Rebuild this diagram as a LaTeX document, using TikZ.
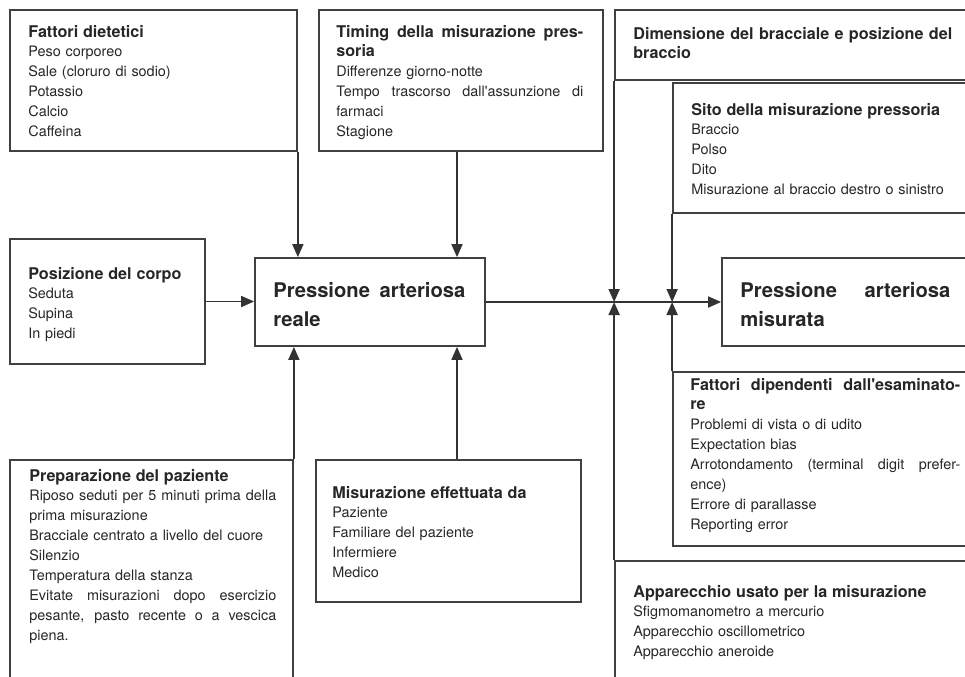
\documentclass[tikz,border=0pt]{standalone}
\usepackage{fontspec}
\setmainfont{TeX Gyre Heros}
\usetikzlibrary{arrows.meta,fit,positioning}

\newcommand{\titfont}{\fontsize{9.2}{11.34}\selectfont\bfseries}
\newcommand{\fillline}[1]{\makebox[\hsize][s]{\spaceskip=0pt\xspaceskip=0pt #1}}

\begin{document}
\begin{tikzpicture}[x=0.02cm,y=-0.02cm]
            \tikzstyle{frame}=[draw=black!75, line width=1pt, inner sep=0pt]
            \tikzstyle{txt}=[anchor=base west, inner sep=0pt, align=left, text=black!85, font=\fontsize{8.2}{11.34}\selectfont]
            \tikzstyle{big}=[txt, font=\fontsize{11.5}{16.6}\selectfont\bfseries]
            \tikzstyle{arr}=[draw=black!80, line width=1pt, -{Triangle[length=0.26cm,width=0.22cm]}]

            \clip (0,0) rectangle (965,677);

            % Frames (the right and bottom ones run off the page)
            \node[frame, fit={(10,10) (297,151)}] (diet) {};
            \node[frame, fit={(319,10) (603,151)}] (timing) {};
            \node[frame, fit={(615,10) (1000,80)}] (dimens) {};
            \node[frame, fit={(673,83) (1000,213)}] (sito) {};
            \node[frame, fit={(10,239) (205,364)}] (posiz) {};
            \node[frame, fit={(255,258) (485,346)}] (reale) {};
            \node[frame, fit={(722,258) (1000,346)}] (misur) {};
            \node[frame, fit={(673,372) (1000,546)}] (esam) {};
            \node[frame, fit={(10,460) (293,720)}] (prep) {};
            \node[frame, fit={(316,460) (581,602)}] (effett) {};
            \node[frame, fit={(615,561) (1000,720)}] (appar) {};

            % Texts of the frames
            \node[txt, text width=5cm] (diet-t) at (28,37)
                {{\titfont Fattori dietetici}\\ Peso corporeo\\ Sale (cloruro di sodio)\\ Potassio\\ Calcio\\ Caffeina};
            \node[txt, text width=4.94cm] (timing-t) at (336,37)
                {\fillline{\titfont Timing della misurazione pres-}\\ {\titfont soria}\\ Differenze giorno-notte\\
                 \fillline{Tempo trascorso dall\textquotesingle assunzione di}\\ farmaci\\ Stagione};
            \node[txt, text width=6.38cm] (dimens-t) at (633,39)
                {\fillline{\titfont Dimensione del bracciale e posizione del}\\ {\titfont braccio}};
            \node[txt, text width=5.4cm] (sito-t) at (691,115)
                {{\titfont Sito della misurazione pressoria}\\ Braccio\\ Polso\\ Dito\\ Misurazione al braccio destro o sinistro};
            \node[txt, text width=3.4cm] (posiz-t) at (28,279)
                {{\titfont Posizione del corpo}\\ Seduta\\ Supina\\ In piedi};
            \node[big, text width=3.84cm] (reale-t) at (273,297)
                {\fillline{Pressione arteriosa}\\ reale};
            \node[big, text width=4.2cm] (misur-t) at (740,297)
                {\fillline{Pressione arteriosa}\\ misurata};
            \node[txt, text width=5.4cm] (esam-t) at (690,390)
                {\fillline{\titfont Fattori dipendenti dall\textquotesingle esaminato-}\\ {\titfont re}\\ Problemi di vista o di udito\\ Expectation bias\\
                 \fillline{Arrotondamento (terminal digit prefer-}\\ ence)\\ Errore di parallasse\\ Reporting error};
            \node[txt, text width=4.94cm] (prep-t) at (29,481)
                {{\titfont Preparazione del paziente}\\ \fillline{Riposo seduti per 5 minuti prima della}\\ prima misurazione\\
                 Bracciale centrato a livello del cuore\\ Silenzio\\ Temperatura della stanza\\
                 \fillline{Evitate misurazioni dopo esercizio}\\ \fillline{pesante, pasto recente o a vescica}\\ piena.};
            \node[txt, text width=4.6cm] (effett-t) at (332,498)
                {{\titfont Misurazione effettuata da}\\ Paziente\\ Familiare del paziente\\ Infermiere\\ Medico};
            \node[txt, text width=6cm] (appar-t) at (633,597)
                {{\titfont Apparecchio usato per la misurazione}\\ Sfigmomanometro a mercurio\\ Apparecchio oscillometrico\\ Apparecchio aneroide};

            % Arrows into the real pressure
            \draw[arr] (diet.south east) -- (diet.south east |- reale.north);
            \draw[arr] ([xshift=-0.08cm]timing.south) -- ([xshift=-0.08cm]timing.south |- reale.north);
            \draw[arr] (posiz.east) -- (posiz.east -| reale.west);
            \draw[arr] (prep.north east) -- (prep.north east |- reale.south);
            \draw[arr] ([xshift=-0.08cm]timing.south |- effett.north) -- ([xshift=-0.08cm]timing.south |- reale.south);

            % Real to measured, with the factors meeting the line
            \draw[arr] (reale.east) -- (misur.west);
            \draw[arr] (dimens.south west) -- (dimens.south west |- reale.east);
            \draw[arr] (appar.north west) -- (appar.north west |- reale.east);
            \draw[arr] (sito.south west) -- (sito.south west |- reale.east);
            \draw[arr] (esam.north west) -- (esam.north west |- reale.east);
        \end{tikzpicture}
\end{document}
